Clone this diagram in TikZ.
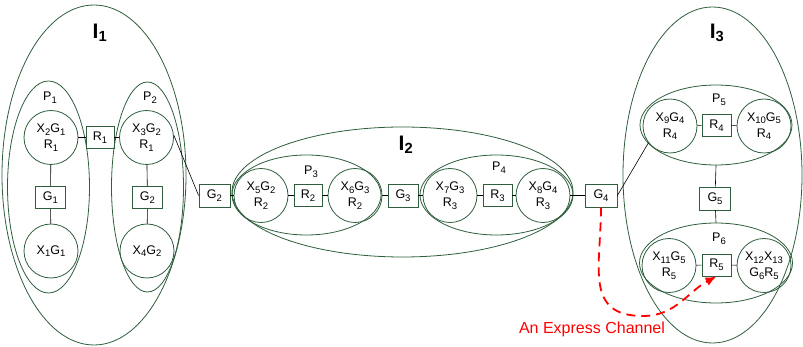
\documentclass[tikz,border=0pt]{standalone}
\usepackage{fontspec}
\setmainfont{Liberation Sans}
\usetikzlibrary{shapes.geometric,arrows.meta}
\definecolor{grn}{RGB}{46,94,60}
\definecolor{redc}{RGB}{255,0,0}
\newcommand\sbx[1]{\raisebox{-2.6pt}{\fontsize{9.5}{10}\selectfont #1}}
\begin{document}
\begin{tikzpicture}[x=1pt,y=-1pt,
  grp/.style={ellipse, draw=grn, line width=0.8pt, inner sep=0pt},
  nd/.style={circle, draw=grn, line width=0.8pt, minimum size=54pt, inner sep=0pt, align=center, font=\fontsize{12.5}{16}\selectfont},
  bx/.style={rectangle, draw=grn, line width=0.8pt, minimum width=30pt, minimum height=22pt, inner sep=1pt, font=\fontsize{12.5}{15}\selectfont},
  lbl/.style={font=\fontsize{12.5}{15}\selectfont, inner sep=0pt},
  big/.style={font=\fontsize{21}{24}\selectfont\bfseries, inner sep=0pt},
  link/.style={draw=black, line width=0.6pt},
  express/.style={draw=redc, line width=1.8pt, dash pattern=on 9pt off 6pt, -{Latex[length=11pt,width=9pt]}}
]
\useasboundingbox (0,0) rectangle (803,347);

% group ellipses
\node[grp, minimum width=184pt, minimum height=340pt] (I1) at (94,175) {};
\node[grp, minimum width=82pt, minimum height=212pt] (P1) at (48.5,187) {};
\node[grp, minimum width=72pt, minimum height=210pt] (P2) at (147.5,187) {};
\node[grp, minimum width=341pt, minimum height=130pt] (I2) at (402.5,192) {};
\node[grp, minimum width=149pt, minimum height=80pt] (P3) at (306.5,195) {};
\node[grp, minimum width=153pt, minimum height=80pt] (P4) at (496.5,195) {};
\node[grp, minimum width=179pt, minimum height=336pt] (I3) at (712.5,175) {};
\node[grp, minimum width=152pt, minimum height=80pt] (P5) at (716,125) {};
\node[grp, minimum width=153pt, minimum height=80pt] (P6) at (716,263) {};

% labels
\node[big] (lI1) at (100,33) {I\textsubscript{1}};
\node[big] (lI2) at (406,145) {I\textsubscript{2}};
\node[big] (lI3) at (717,33) {I\textsubscript{3}};
\node[lbl] (lP1) at (50,98) {P\sbx{1}};
\node[lbl] (lP2) at (150,98) {P\sbx{2}};
\node[lbl] (lP3) at (311,172) {P\sbx{3}};
\node[lbl] (lP4) at (499,168) {P\sbx{4}};
\node[lbl] (lP5) at (719,100) {P\sbx{5}};
\node[lbl] (lP6) at (719,239) {P\sbx{6}};

% I1
\node[nd] (X2) at (51,137.5) {X\sbx{2}G\sbx{1}\\R\sbx{1}};
\node[nd] (X1) at (51,251) {X\sbx{1}G\sbx{1}};
\node[bx] (G1) at (50.5,197.5) {G\sbx{1}};
\node[bx, minimum width=28pt] (R1) at (100,137.5) {R\sbx{1}};
\node[nd] (X3) at (146.5,137.5) {X\sbx{3}G\sbx{2}\\R\sbx{1}};
\node[bx] (G2i) at (147.5,197.5) {G\sbx{2}};
\node[nd] (X4) at (147,251) {X\sbx{4}G\sbx{2}};

% I2 row
\node[bx, minimum width=31pt, minimum height=23pt] (G2o) at (214.5,195.5) {G\sbx{2}};
\node[nd] (X5) at (261,195.5) {X\sbx{5}G\sbx{2}\\R\sbx{2}};
\node[bx, minimum width=28pt] (R2) at (308,195.5) {R\sbx{2}};
\node[nd] (X6) at (355,195.5) {X\sbx{6}G\sbx{3}\\R\sbx{2}};
\node[bx, minimum height=23pt] (G3) at (403,195.5) {G\sbx{3}};
\node[nd] (X7) at (450,195.5) {X\sbx{7}G\sbx{3}\\R\sbx{3}};
\node[bx, minimum width=29pt] (R3) at (497.5,195.5) {R\sbx{3}};
\node[nd] (X8) at (543,195.5) {X\sbx{8}G\sbx{4}\\R\sbx{3}};
\node[bx, minimum width=32pt, minimum height=23pt] (G4) at (601,195.5) {G\sbx{4}};

% I3
\node[nd] (X9) at (670,126) {X\sbx{9}G\sbx{4}\\R\sbx{4}};
\node[bx, minimum width=29pt] (R4) at (716.5,125.5) {R\sbx{4}};
\node[nd] (X10) at (764,126) {X\sbx{10}G\sbx{5}\\R\sbx{4}};
\node[bx, minimum width=31pt, minimum height=23pt] (G5) at (715,198.5) {G\sbx{5}};
\node[nd] (X11) at (669,265.5) {X\sbx{11}G\sbx{5}\\R\sbx{5}};
\node[bx, minimum width=29pt] (R5) at (716.5,265) {R\sbx{5}};
\node[nd] (X12) at (764,265.5) {X\sbx{12}X\sbx{13}\\G\sbx{6}R\sbx{5}};

% links
\draw[link] (X2) -- (R1);
\draw[link] (R1) -- (X3);
\draw[link] (X2) -- (G1);
\draw[link] (G1) -- (X1);
\draw[link] (X3) -- (G2i);
\draw[link] (G2i) -- (X4);
\draw[link] (X3.5) -- (G2o.west);
\draw[link] (G2o) -- (X5);
\draw[link] (X5) -- (R2);
\draw[link] (R2) -- (X6);
\draw[link] (X6) -- (G3);
\draw[link] (G3) -- (X7);
\draw[link] (X7) -- (R3);
\draw[link] (R3) -- (X8);
\draw[link] (X8) -- (G4);
\draw[link] (G4.east) -- (X9.218);
\draw[link] (X9) -- (R4);
\draw[link] (R4) -- (X10);
\draw[link] (P5.south) -- (G5);
\draw[link] (G5) -- (P6.north);
\draw[link] (X11) -- (R5);
\draw[link] (R5) -- (X12);

% express channel
\coordinate (bend) at (643,316);
\draw[express] (G4.south) to[out=-90,in=180,looseness=1.3] (bend) to[out=0,in=208] (R5.south);
\node[font=\fontsize{16}{18}\selectfont, text=redc, inner sep=0pt] (ec) at (592,329) {An Express Channel};
\end{tikzpicture}
\end{document}
